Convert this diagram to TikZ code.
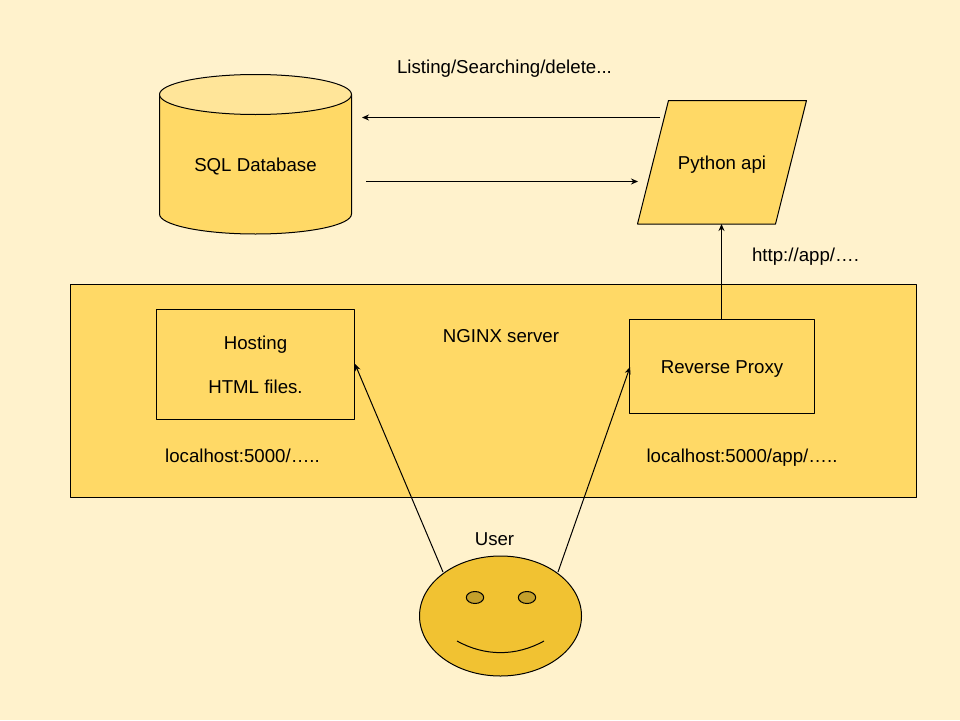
\documentclass[tikz,border=0pt]{standalone}
\usepackage{fontspec}
\setmainfont{Liberation Sans}
\usetikzlibrary{arrows.meta}
\definecolor{bgc}{HTML}{FFF2CC}
\definecolor{mainc}{HTML}{FFD966}
\definecolor{topc}{HTML}{FFE599}
\definecolor{facec}{HTML}{F1C232}
\definecolor{eyec}{HTML}{C4A02B}
\tikzset{
  shp/.style={draw=black,line width=1pt,fill=mainc,line join=round},
  boxn/.style={shp,inner sep=0pt,outer sep=0pt,align=center},
  lbl/.style={font=\fontsize{18.67}{18.67}\selectfont,inner sep=0pt,outer sep=0pt,anchor=base,text=black},
  conn/.style={draw=black,line width=1pt,-{Stealth[length=7pt,width=6pt]}}
}
\begin{document}
\begin{tikzpicture}[x=1pt,y=-1pt]
\useasboundingbox (0,0) rectangle (960,720);
\fill[bgc] (0,0) rectangle (960,720);
% NGINX
\node[boxn,minimum width=846pt,minimum height=213pt] (nginx) at (493.5,391) {};
\node[boxn,minimum width=198pt,minimum height=109.5pt] (hosting) at (255.5,364.25) {};
\node[boxn,minimum width=185pt,minimum height=94pt] (proxy) at (722,366.5) {};
\node[lbl] (hosttxt) at (255.5,349) {Hosting};
\node[lbl] (htmltxt) at (255.5,393) {HTML files.};
\node[lbl] (proxytxt) at (722,373) {Reverse Proxy};
\node[lbl] (nginxtxt) at (501,342) {NGINX server};
\node[lbl] (loc1) at (242.5,462) {localhost:5000/…..};
\node[lbl] (loc2) at (742,462) {localhost:5000/app/…..};
% Cylinder
\path[shp] (159.5,94.5) -- (159.5,214) arc[start angle=180,end angle=0,x radius=96,y radius=20] -- (351.5,94.5) -- cycle;
\path[shp,fill=topc] (255.5,94.5) ellipse[x radius=96,y radius=20];
\node[lbl] (db) at (255.5,171) {SQL Database};
% Parallelogram
\path[shp] (668.5,100.5) -- (806.5,100.5) -- (775.5,224) -- (637.5,224) -- cycle;
\node[lbl] (api) at (722,169) {Python api};
\coordinate (apibot) at (721.5,224);
\coordinate (proxytop) at (721.5,319.5);
\node[lbl] (toptxt) at (504.5,73) {Listing/Searching/delete...};
\node[lbl] (httptxt) at (805.5,261) {http://app/….};
% Face
\path[shp,fill=facec] (500.5,616) ellipse[x radius=81,y radius=60];
\path[shp,fill=eyec] (475,597.5) ellipse[x radius=8.7,y radius=6];
\path[shp,fill=eyec] (527,597.5) ellipse[x radius=8.7,y radius=6];
\draw[line width=1pt] (457,641) .. controls (485,656.5) and (516,656.5) .. (544,641);
\node[lbl] (user) at (494.5,545) {User};
% Connector ends
\coordinate (a1) at (660,117.5);
\coordinate (a2) at (362,117.5);
\coordinate (b1) at (366,181.5);
\coordinate (b2) at (638,181.5);
\coordinate (c1) at (443,572);
\coordinate (c2) at (355,364);
\coordinate (d1) at (558,572);
\coordinate (d2) at (630,367);
\draw[conn] (a1) -- (a2);
\draw[conn] (b1) -- (b2);
\draw[conn] (proxytop) -- (apibot);
\draw[conn] (c1) -- (c2);
\draw[conn] (d1) -- (d2);
\end{tikzpicture}
\end{document}
